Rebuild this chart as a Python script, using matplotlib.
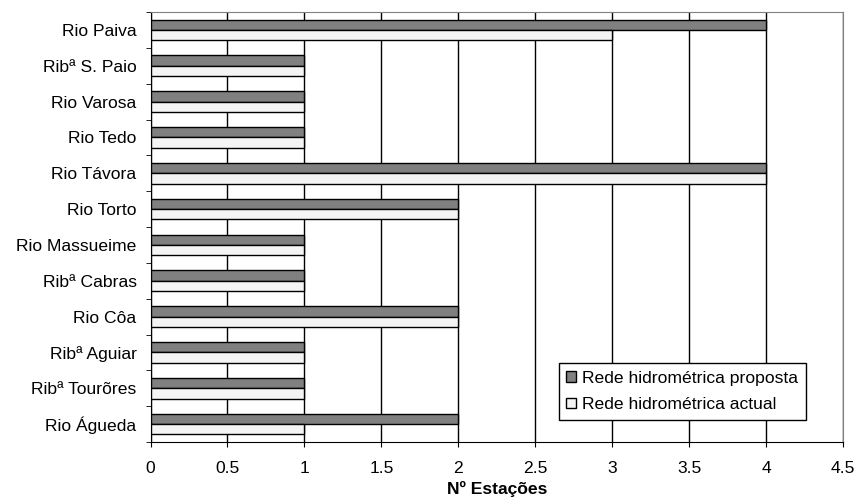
import matplotlib
matplotlib.use("Agg")
import matplotlib.pyplot as plt
import numpy as np

plt.rcParams['font.family'] = ['Liberation Sans', 'DejaVu Sans']

categories = ["Rio Paiva", "Ribª S. Paio", "Rio Varosa", "Rio Tedo", "Rio Távora",
              "Rio Torto", "Rio Massueime", "Ribª Cabras", "Rio Côa", "Ribª Aguiar",
              "Ribª Tourõres", "Rio Águeda"]
proposta = [4, 1, 1, 1, 4, 2, 1, 1, 2, 1, 1, 2]
actual = [3, 1, 1, 1, 4, 2, 1, 1, 2, 1, 1, 1]
xticks = [0, 0.5, 1, 1.5, 2, 2.5, 3, 3.5, 4, 4.5]

FS = 12.6
fig = plt.figure(figsize=(8.59, 5.03), dpi=100)
ax = fig.add_axes([150.5/859, 1-442/503, (843-150.5)/859, (442-12)/503])

n = len(categories)
y = np.arange(n)[::-1]
h = 0.29
ax.barh(y + h/2, proposta, height=h, color='#808080', edgecolor='black', linewidth=1,
        label='Rede hidrométrica proposta', zorder=3)
ax.barh(y - h/2, actual, height=h, color='#f4f4f4', edgecolor='black', linewidth=1,
        label='Rede hidrométrica actual', zorder=3)

ax.set_xlim(0, 4.5)
ax.set_ylim(-0.5, n - 0.5)
ax.set_xticks(xticks)
ax.set_xticklabels([f"{t:g}" for t in xticks], fontsize=FS)
ax.set_yticks(y)
ax.set_yticklabels(categories, fontsize=FS)
ax.set_yticks(np.arange(n + 1) - 0.5, minor=True)
ax.tick_params(axis='y', which='major', length=0, pad=10)
ax.tick_params(axis='y', which='minor', length=3.5, direction='out')
ax.tick_params(axis='x', length=3.5, direction='out', pad=10)
ax.xaxis.grid(True, color='black', linewidth=1, zorder=0)
ax.set_axisbelow(True)
for s in ['top', 'right']:
    ax.spines[s].set_color('#808080')
for s in ['left', 'bottom']:
    ax.spines[s].set_color('black')
ax.set_xlabel('Nº Estações', fontsize=FS, fontweight='bold', labelpad=4)

leg = ax.legend(loc='lower right', bbox_to_anchor=(806/859, 1-420/503), bbox_transform=fig.transFigure,
                fontsize=FS, frameon=True, fancybox=False, edgecolor='black',
                handlelength=0.55, handleheight=0.55, handletextpad=0.35, borderpad=0.45,
                labelspacing=0.65, framealpha=1, borderaxespad=0)
leg.get_frame().set_linewidth(1)

fig.savefig('out.png', dpi=100, facecolor='white')
